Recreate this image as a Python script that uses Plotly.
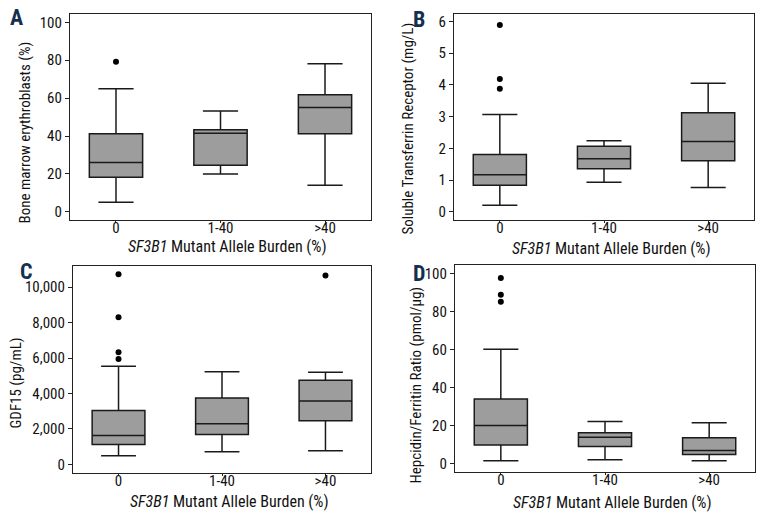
import plotly.graph_objects as go

groups = ["0", "1-40", ">40"]

# panel A: bone marrow erythroblasts (%)
a_low = [5, 20, 14]
a_q1 = [18.2, 24.6, 41.2]
a_med = [26, 41.5, 55.1]
a_q3 = [41.2, 43.3, 61.8]
a_high = [65, 53.2, 78.2]
a_out_x = ["0"]
a_out_y = [79.2]

# panel B: soluble transferrin receptor (mg/L)
b_low = [0.21, 0.93, 0.77]
b_q1 = [0.84, 1.36, 1.61]
b_med = [1.17, 1.67, 2.22]
b_q3 = [1.81, 2.07, 3.12]
b_high = [3.07, 2.24, 4.05]
b_out_x = ["0", "0", "0"]
b_out_y = [3.88, 4.18, 5.88]

# panel C: GDF15 (pg/mL)
c_low = [490, 713, 769]
c_q1 = [1126, 1689, 2458]
c_med = [1632, 2289, 3583]
c_q3 = [3039, 3752, 4747]
c_high = [5535, 5235, 5197]
c_out_x = ["0", "0", "0", "0", ">40"]
c_out_y = [5947, 6323, 8311, 10732, 10657]

# panel D: hepcidin/ferritin ratio
d_low = [1.4, 1.9, 1.4]
d_q1 = [9.6, 8.9, 4.6]
d_med = [20, 13.7, 6.7]
d_q3 = [34, 16.1, 13.5]
d_high = [60.2, 22, 21.4]
d_out_x = ["0", "0", "0"]
d_out_y = [85.3, 89, 97.9]

XTITLE = "<i>SF3B1</i> Mutant Allele Burden (%)"
FONT = "Roboto Condensed, DejaVu Sans Condensed, sans-serif"
OFF = 8  # page body margin
W, H = 764 - OFF, 522 - OFF


def px(x):
    return (x - OFF) / W


def py(y):
    return 1 - (y - OFF) / H


# pixel placement of each panel (plot box, y title centre, x title y, panel letter)
panels = [
    dict(low=a_low, q1=a_q1, med=a_med, q3=a_q3, high=a_high, ox=a_out_x, oy=a_out_y,
         ytitle="Bone marrow erythroblasts (%)", yrange=[-4.4, 104.4], dtick=20, fmt="",
         xd=(70, 371), yd=(13, 220), yt=(25, 132), xty=246, label="A", lpos=(16, 17)),
    dict(low=b_low, q1=b_q1, med=b_med, q3=b_q3, high=b_high, ox=b_out_x, oy=b_out_y,
         ytitle="Soluble Transferrin Receptor (mg/L)", yrange=[-0.26, 6.23], dtick=1, fmt="",
         xd=(454, 754), yd=(13, 220), yt=(408, 128), xty=248, label="B", lpos=(419, 19)),
    dict(low=c_low, q1=c_q1, med=c_med, q3=c_q3, high=c_high, ox=c_out_x, oy=c_out_y,
         ytitle="GDF15 (pg/mL)", yrange=[-500, 11200], dtick=2000, fmt=",d",
         xd=(73, 371), yd=(266, 474), yt=(16, 384), xty=502, label="C", lpos=(26, 272)),
    dict(low=d_low, q1=d_q1, med=d_med, q3=d_q3, high=d_high, ox=d_out_x, oy=d_out_y,
         ytitle="Hepcidin/Ferritin Ratio (pmol/\u03bcg)", yrange=[-4.7, 104.7], dtick=20, fmt="",
         xd=(455, 755), yd=(265, 473), yt=(416, 386), xty=503, label="D", lpos=(419, 274)),
]

fig = go.Figure()
layout = {}
for i, p in enumerate(panels, start=1):
    xa = "x" if i == 1 else f"x{i}"
    ya = "y" if i == 1 else f"y{i}"
    fig.add_trace(go.Box(
        x=groups, q1=p["q1"], median=p["med"], q3=p["q3"],
        lowerfence=p["low"], upperfence=p["high"],
        fillcolor="#9d9d9d", line=dict(color="#1a1a1a", width=1.5),
        whiskerwidth=0.66, boxpoints=False, showlegend=False,
        xaxis=xa, yaxis=ya, hoverinfo="skip",
    ))
    fig.add_trace(go.Scatter(
        x=p["ox"], y=p["oy"], mode="markers",
        marker=dict(color="black", size=6), showlegend=False,
        xaxis=xa, yaxis=ya,
    ))
    key = "" if i == 1 else str(i)
    layout[f"xaxis{key}"] = dict(
        domain=[px(p["xd"][0]), px(p["xd"][1])],
        anchor=ya, type="category", categoryorder="array", categoryarray=groups,
        range=[-0.44, 2.44], showline=True, linecolor="#222", linewidth=1.2, mirror=True,
        ticks="outside", ticklen=2, tickcolor="#222", showgrid=False, zeroline=False,
        ticklabelstandoff=-8,
        tickfont=dict(size=15, color="#111"),
    )
    layout[f"yaxis{key}"] = dict(
        domain=[py(p["yd"][1]), py(p["yd"][0])],
        anchor=xa, range=p["yrange"], dtick=p["dtick"], tick0=0, tickformat=p["fmt"],
        showline=True, linecolor="#222", linewidth=1.2, mirror=True,
        ticks="outside", ticklen=4, tickcolor="#222", showgrid=False, zeroline=False,
        tickfont=dict(size=15, color="#111"),
    )
    # axis titles
    fig.add_annotation(
        x=px(p["yt"][0]), y=py(p["yt"][1]), xref="paper", yref="paper",
        text=p["ytitle"], textangle=-90, showarrow=False,
        font=dict(size=15, color="#111"), xanchor="center", yanchor="middle",
    )
    fig.add_annotation(
        x=px((p["xd"][0] + p["xd"][1]) / 2 + 7), y=py(p["xty"]), xref="paper", yref="paper",
        text=XTITLE, showarrow=False,
        font=dict(size=16, color="#111"), xanchor="center", yanchor="middle",
    )
    fig.add_annotation(
        x=px(p["lpos"][0]), y=py(p["lpos"][1]), xref="paper", yref="paper",
        text=f"<b>{p['label']}</b>", showarrow=False,
        font=dict(size=22, color="#15304f"),
        xanchor="center", yanchor="middle",
    )

fig.update_layout(
    **layout,
    width=W, height=H,
    margin=dict(l=0, r=0, t=0, b=0),
    paper_bgcolor="white", plot_bgcolor="white",
    font=dict(family=FONT, color="#111"),
    boxgap=0.49, boxgroupgap=0,
)

fig.write_html("out.html")
